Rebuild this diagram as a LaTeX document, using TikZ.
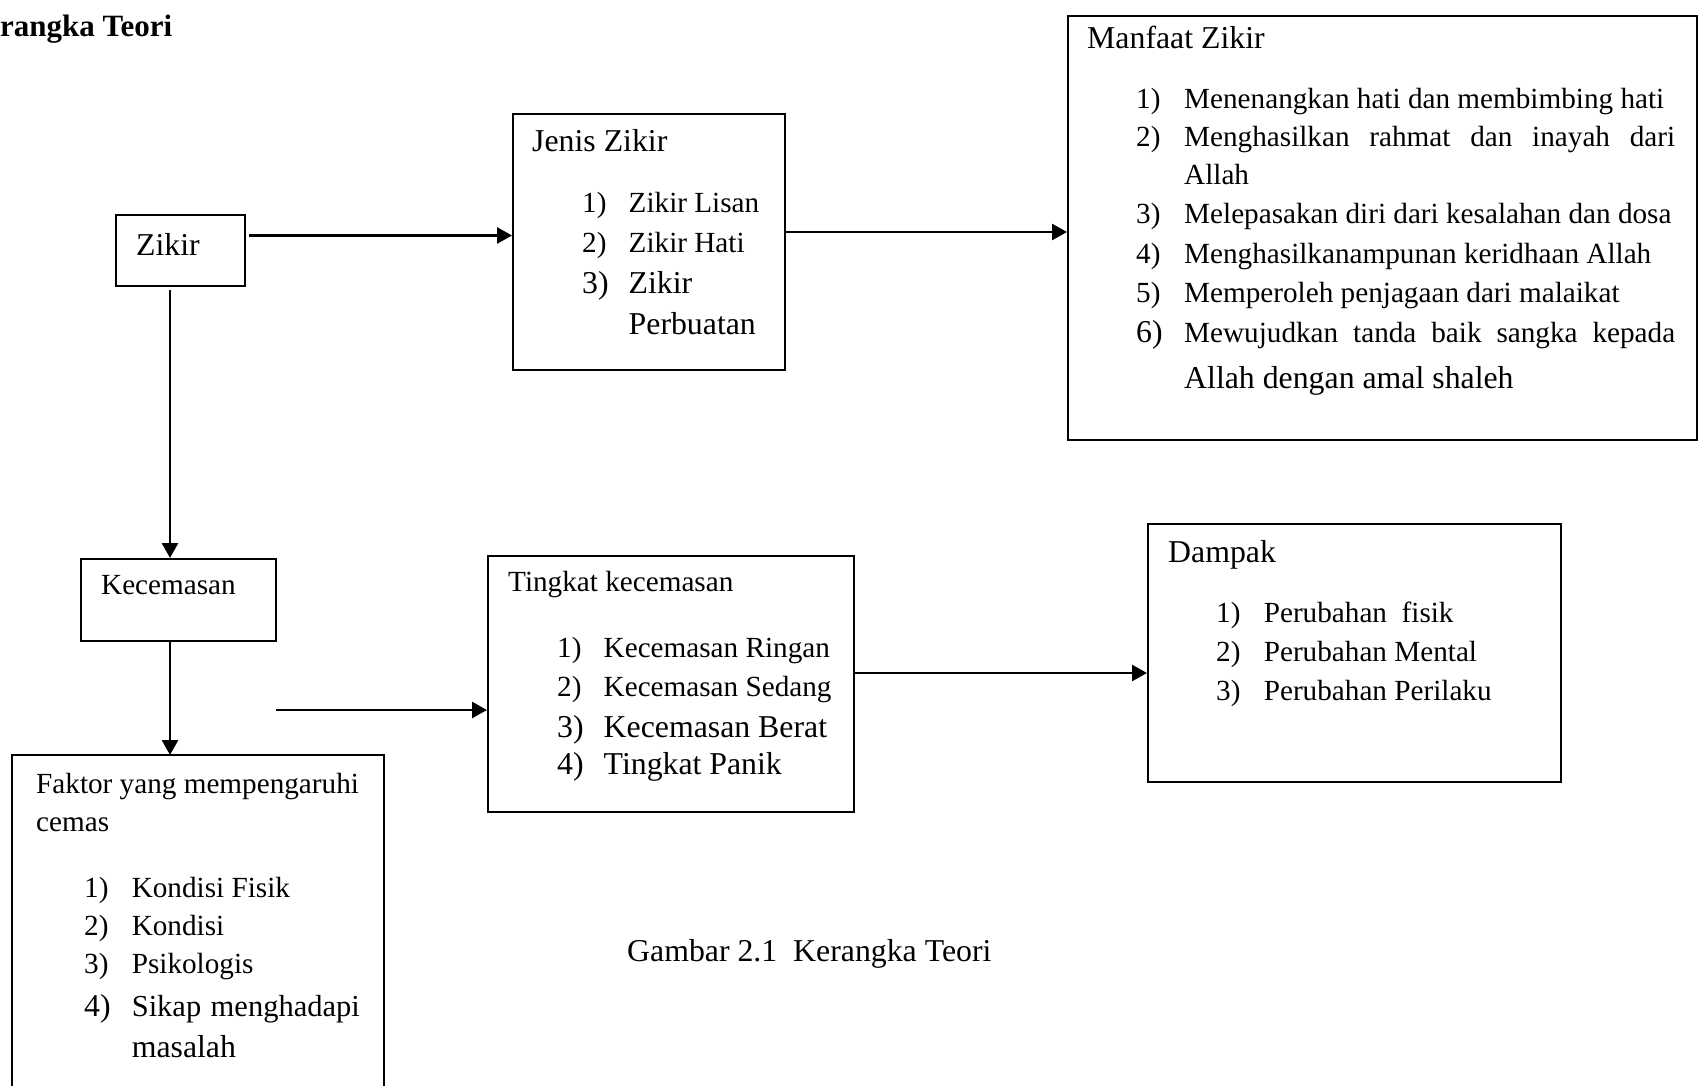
\documentclass[tikz,border=0pt]{standalone}
\usepackage{fontspec}
\setmainfont{Liberation Serif}
\usetikzlibrary{arrows.meta}
\begin{document}
\begin{tikzpicture}[x=1pt,y=-1pt,
  box/.style={draw, line width=2.2pt, inner sep=0pt, anchor=north west},
  arr/.style={line width=2.7pt, -{Triangle[length=15pt,width=16pt]}},
  txt/.style={anchor=base west, inner sep=0pt, font=\fontsize{29.2}{35}\selectfont},
  big/.style={anchor=base west, inner sep=0pt, font=\fontsize{31.8}{38}\selectfont},
  mid/.style={anchor=base west, inner sep=0pt, font=\fontsize{30.5}{37}\selectfont}]
\useasboundingbox (0,0) rectangle (1705,1086);

% title
\node[anchor=base west, inner sep=0pt, font=\bfseries\fontsize{31}{36}\selectfont] (title) at (0,37) {rangka Teori};

% boxes
\node[box, minimum width=129pt, minimum height=71pt] (zikir) at (115,214) {};
\node[box, minimum width=272pt, minimum height=256pt] (jenis) at (512,113) {};
\node[box, minimum width=629pt, minimum height=424pt] (manfaat) at (1067,15) {};
\node[box, minimum width=195pt, minimum height=82pt] (kec) at (80,558) {};
\node[box, draw=none, minimum width=370pt, minimum height=331pt] (faktor) at (12,755) {};
\draw[line width=2.2pt] (faktor.south west) -- (faktor.north west) -- (faktor.north east) -- (faktor.south east);
\node[box, minimum width=366pt, minimum height=256pt] (tingkat) at (487,555) {};
\node[box, minimum width=413pt, minimum height=258pt] (dampak) at (1147,523) {};

% connectors
\coordinate (a1s) at (249,235.5);
\draw[arr] (a1s) -- (jenis.west |- a1s);
\coordinate (a2s) at (786,232);
\draw[arr] (a2s) -- (manfaat.west |- a2s);
\coordinate (v1) at (170,290);
\draw[arr] (v1) -- (kec.north -| v1);
\draw[arr] (kec.south -| v1) -- (faktor.north -| v1);
\coordinate (a5s) at (276,710);
\draw[arr] (a5s) -- (tingkat.west |- a5s);
\coordinate (a6s) at (855,673);
\draw[arr] (a6s) -- (dampak.west |- a6s);

% Zikir
\node[big] (tz) at (136,255) {Zikir};

% Jenis Zikir
\node[big] (tj) at (532,152) {Jenis Zikir};
\node[txt] (j1n) at (582,213) {1)};
\node[txt] (j1) at (628.5,213) {Zikir Lisan};
\node[txt] (j2n) at (582,252.5) {2)};
\node[txt] (j2) at (628.5,252.5) {Zikir Hati};
\node[big] (j3n) at (582,293) {3)};
\node[big] (j3) at (628.5,293) {Zikir};
\node[big] (j3b) at (628.5,334) {Perbuatan};

% Manfaat Zikir
\node[big] (tm) at (1087,49) {Manfaat Zikir};
\node[txt] (m1n) at (1136,109) {1)};
\node[txt] (m1) at (1184,109) {Menenangkan hati dan membimbing hati};
\node[txt] (m2n) at (1136,147) {2)};
\node[txt] (m2) at (1184,147) {\makebox[491pt][s]{Menghasilkan rahmat dan inayah dari}};
\node[txt] (m2b) at (1184,185) {Allah};
\node[txt] (m3n) at (1136,224) {3)};
\node[txt] (m3) at (1184,224) {Melepasakan diri dari kesalahan dan dosa};
\node[txt] (m4n) at (1136,263.5) {4)};
\node[txt] (m4) at (1184,263.5) {Menghasilkanampunan keridhaan Allah};
\node[txt] (m5n) at (1136,302.6) {5)};
\node[txt] (m5) at (1184,302.6) {Memperoleh penjagaan dari malaikat};
\node[big] (m6n) at (1136,342) {6)};
\node[txt] (m6) at (1184,342) {\makebox[491pt][s]{Mewujudkan tanda baik sangka kepada}};
\node[big] (m6b) at (1184,388) {Allah dengan amal shaleh};

% Kecemasan
\node[txt] (tk) at (101,594) {Kecemasan};

% Faktor
\node[txt] (tf) at (36,793) {Faktor yang mempengaruhi};
\node[txt] (tf2) at (36,831) {cemas};
\node[txt] (f1n) at (84,897) {1)};
\node[txt] (f1) at (131.6,897) {Kondisi Fisik};
\node[txt] (f2n) at (84,935.5) {2)};
\node[txt] (f2) at (131.6,935.5) {Kondisi};
\node[txt] (f3n) at (84,973.5) {3)};
\node[txt] (f3) at (131.6,973.5) {Psikologis};
\node[big] (f4n) at (84,1016) {4)};
\node[mid] (f4) at (131.6,1016) {\makebox[228pt][s]{Sikap menghadapi}};
\node[big] (f4b) at (131.6,1057) {masalah};

% Tingkat kecemasan
\node[txt] (tt) at (508,591) {Tingkat kecemasan};
\node[txt] (t1n) at (557,657) {1)};
\node[txt] (t1) at (603.5,657) {Kecemasan Ringan};
\node[txt] (t2n) at (557,696) {2)};
\node[txt] (t2) at (603.5,696) {Kecemasan Sedang};
\node[big] (t3n) at (557,737.5) {3)};
\node[big] (t3) at (603.5,737.5) {Kecemasan Berat};
\node[big] (t4n) at (557,774.5) {4)};
\node[big] (t4) at (603.5,774.5) {Tingkat Panik};

% Dampak
\node[big] (td) at (1168,562) {Dampak};
\node[txt] (d1n) at (1216,622) {1)};
\node[txt] (d1) at (1263.6,622) {Perubahan~ fisik};
\node[txt] (d2n) at (1216,661.4) {2)};
\node[txt] (d2) at (1263.6,661.4) {Perubahan Mental};
\node[txt] (d3n) at (1216,700.6) {3)};
\node[txt] (d3) at (1263.6,700.6) {Perubahan Perilaku};

% caption
\node[big] (cap) at (627,961.5) {Gambar 2.1~ Kerangka Teori};
\end{tikzpicture}
\end{document}
